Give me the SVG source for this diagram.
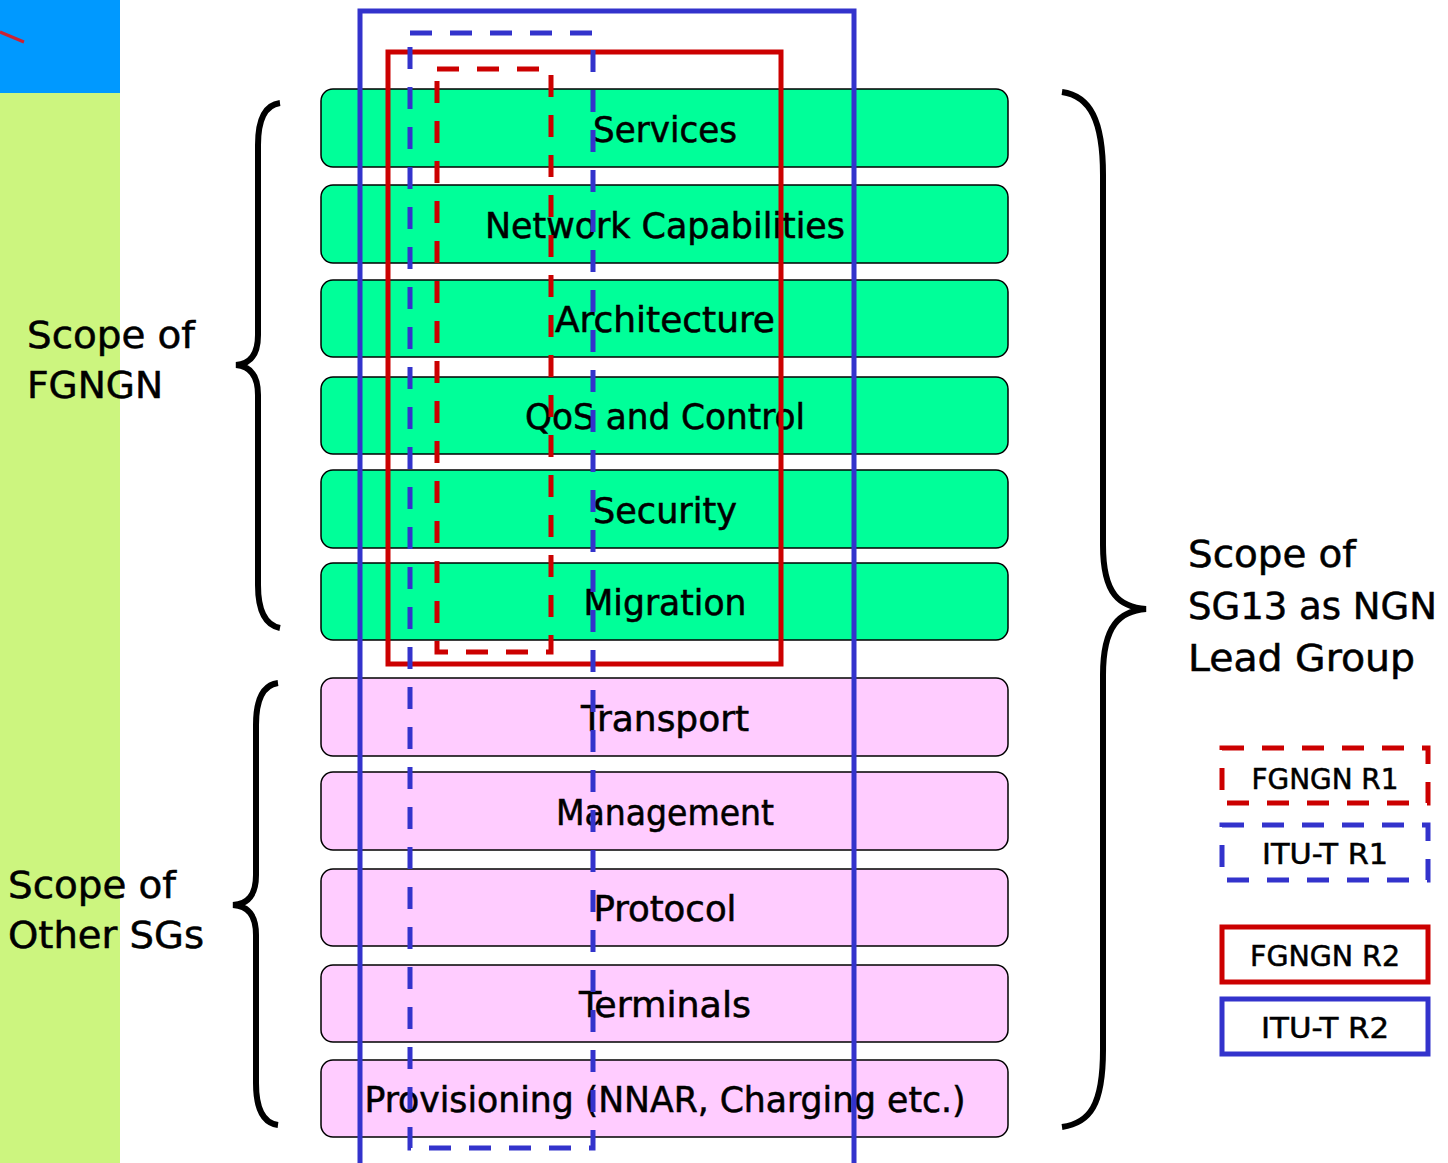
<svg xmlns="http://www.w3.org/2000/svg" width="1448" height="1163" viewBox="0 0 1448 1163">
<style>
.t{font-family:"DejaVu Sans Condensed","DejaVu Sans",sans-serif;font-size:35px;fill:#000;stroke:#000;stroke-width:0.5;text-anchor:middle}
.l{font-family:"DejaVu Sans Condensed","DejaVu Sans",sans-serif;font-size:38px;fill:#000;stroke:#000;stroke-width:0.5}
.g{font-family:"DejaVu Sans Condensed","DejaVu Sans",sans-serif;font-size:29px;fill:#000;stroke:#000;stroke-width:0.5;text-anchor:middle}
.bg{fill:#00FF99;stroke:#000;stroke-width:1.5}
.bp{fill:#FFCCFF;stroke:#000;stroke-width:1.5}
.br{fill:none;stroke:#000;stroke-width:6}
.rs{fill:none;stroke:#CC0000;stroke-width:5}
.bs{fill:none;stroke:#3333CC;stroke-width:5}
.rd{fill:none;stroke:#CC0000;stroke-width:5;stroke-dasharray:22 18}
.bd{fill:none;stroke:#3333CC;stroke-width:5;stroke-dasharray:22 18}
</style>
<rect x="0" y="0" width="1448" height="1163" fill="#fff"/>
<rect x="0" y="0" width="120" height="93" fill="#0099FF"/>
<rect x="0" y="93" width="120" height="1070" fill="#CCF57F"/>
<line x1="0" y1="32" x2="24" y2="42" stroke="#CC2233" stroke-width="3"/>

<g id="services"><rect class="bg" x="321" y="89" width="687" height="78" rx="12"/><text class="t" x="665" y="142" textLength="144" lengthAdjust="spacingAndGlyphs">Services</text></g>
<g id="network-capabilities"><rect class="bg" x="321" y="185" width="687" height="78" rx="12"/><text class="t" x="665" y="238" textLength="360" lengthAdjust="spacingAndGlyphs">Network Capabilities</text></g>
<g id="architecture"><rect class="bg" x="321" y="280" width="687" height="77" rx="12"/><text class="t" x="665" y="332" textLength="220" lengthAdjust="spacingAndGlyphs">Architecture</text></g>
<g id="qos"><rect class="bg" x="321" y="377" width="687" height="77" rx="12"/><text class="t" x="665" y="429" textLength="280" lengthAdjust="spacingAndGlyphs">QoS and Control</text></g>
<g id="security"><rect class="bg" x="321" y="470" width="687" height="78" rx="12"/><text class="t" x="665" y="523" textLength="144" lengthAdjust="spacingAndGlyphs">Security</text></g>
<g id="migration"><rect class="bg" x="321" y="563" width="687" height="77" rx="12"/><text class="t" x="665" y="615" textLength="163" lengthAdjust="spacingAndGlyphs">Migration</text></g>
<g id="transport"><rect class="bp" x="321" y="678" width="687" height="78" rx="12"/><text class="t" x="665" y="731" textLength="168" lengthAdjust="spacingAndGlyphs">Transport</text></g>
<g id="management"><rect class="bp" x="321" y="772" width="687" height="78" rx="12"/><text class="t" x="665" y="825" textLength="218" lengthAdjust="spacingAndGlyphs">Management</text></g>
<g id="protocol"><rect class="bp" x="321" y="869" width="687" height="77" rx="12"/><text class="t" x="665" y="921" textLength="143" lengthAdjust="spacingAndGlyphs">Protocol</text></g>
<g id="terminals"><rect class="bp" x="321" y="965" width="687" height="77" rx="12"/><text class="t" x="665" y="1017" textLength="172" lengthAdjust="spacingAndGlyphs">Terminals</text></g>
<g id="provisioning"><rect class="bp" x="321" y="1060" width="687" height="77" rx="12"/><text class="t" x="665" y="1112" textLength="601" lengthAdjust="spacingAndGlyphs">Provisioning (NNAR, Charging etc.)</text></g>

<g id="scopes">
<rect class="bs" x="360" y="11" width="494" height="1160"/>
<rect class="rs" x="388" y="52" width="393" height="612"/>
<rect class="bd" x="410" y="33" width="183" height="1115"/>
<rect class="rd" x="437" y="69" width="114" height="583"/>
</g>

<g id="connectors">
<path class="br" d="M280,103 C265,105 258,120 258,145 L258,335 C258,355 250,364 236,365 C250,366 258,375 258,395 L258,585 C258,610 265,625 280,628"/>
<path class="br" d="M278,683 C263,685 256,700 256,725 L256,875 C256,895 248,904 233,905 C248,906 256,915 256,935 L256,1083 C256,1108 263,1123 278,1125"/>
<path class="br" d="M1062,92 C1090,96 1103,120 1103,175 L1103,545 C1103,595 1120,607 1146,609 C1120,611 1103,625 1103,675 L1103,1050 C1103,1105 1090,1123 1062,1127"/>
</g>

<g id="label-fgngn"><text class="l" x="27" y="348" textLength="168" lengthAdjust="spacingAndGlyphs">Scope of</text><text class="l" x="27" y="398" textLength="136" lengthAdjust="spacingAndGlyphs">FGNGN</text></g>
<g id="label-other"><text class="l" x="8" y="898" textLength="168" lengthAdjust="spacingAndGlyphs">Scope of</text><text class="l" x="8" y="948" textLength="196" lengthAdjust="spacingAndGlyphs">Other SGs</text></g>
<g id="label-sg13"><text class="l" x="1188" y="567" textLength="168" lengthAdjust="spacingAndGlyphs">Scope of</text><text class="l" x="1188" y="619" textLength="249" lengthAdjust="spacingAndGlyphs">SG13 as NGN</text><text class="l" x="1188" y="671" textLength="227" lengthAdjust="spacingAndGlyphs">Lead Group</text></g>

<g id="legend-fgngn-r1"><rect class="rd" x="1222" y="748" width="206" height="55"/><text class="g" x="1325" y="789" textLength="147" lengthAdjust="spacingAndGlyphs">FGNGN R1</text></g>
<g id="legend-itut-r1"><rect class="bd" x="1222" y="825" width="206" height="55"/><text class="g" x="1325" y="864" textLength="126" lengthAdjust="spacingAndGlyphs">ITU-T R1</text></g>
<g id="legend-fgngn-r2"><rect class="rs" x="1222" y="927" width="206" height="55"/><text class="g" x="1325" y="966" textLength="150" lengthAdjust="spacingAndGlyphs">FGNGN R2</text></g>
<g id="legend-itut-r2"><rect class="bs" x="1222" y="999" width="206" height="55"/><text class="g" x="1325" y="1038" textLength="128" lengthAdjust="spacingAndGlyphs">ITU-T R2</text></g>
</svg>
